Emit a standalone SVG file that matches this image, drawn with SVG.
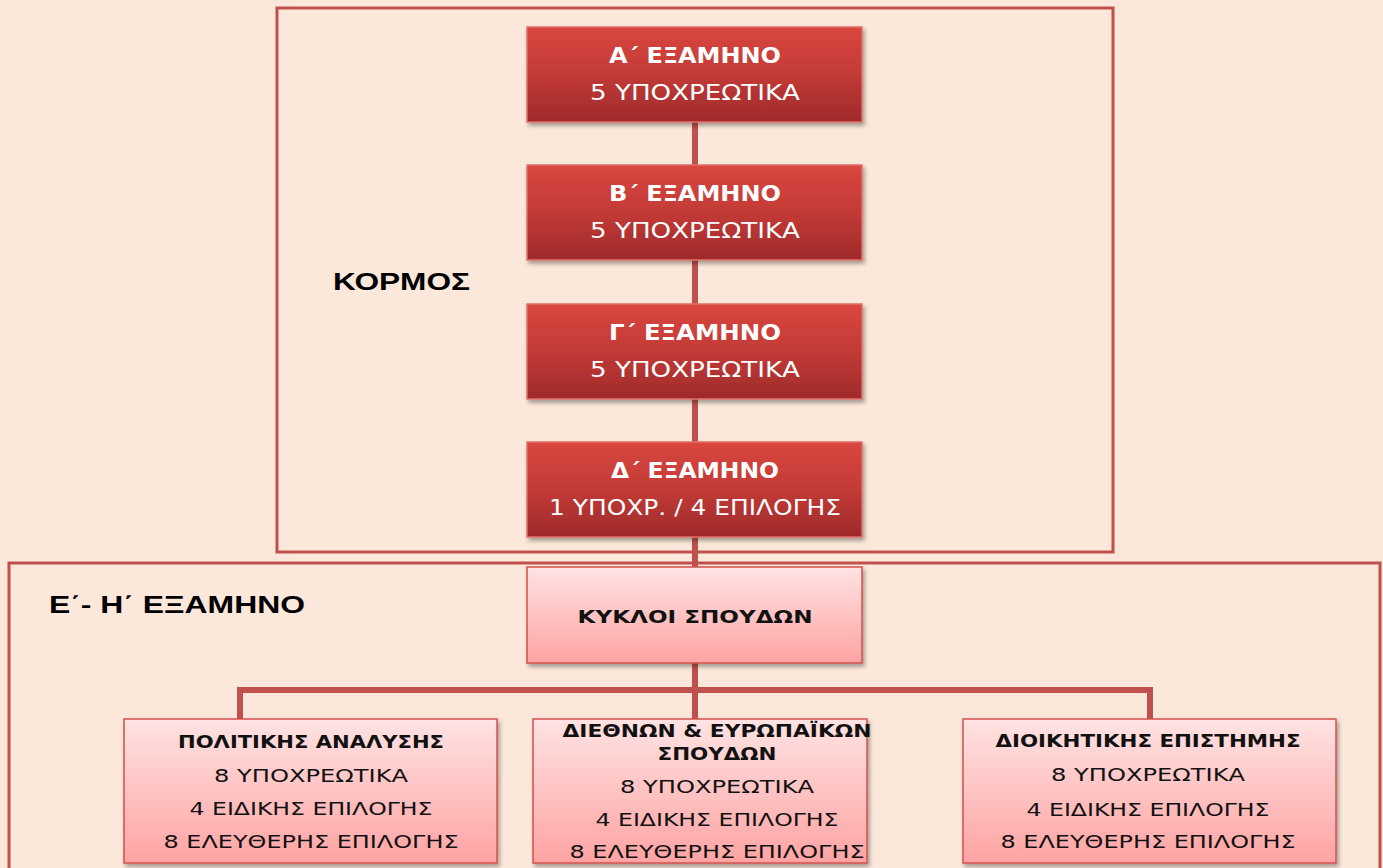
<svg xmlns="http://www.w3.org/2000/svg" width="1383" height="868" viewBox="0 0 1383 868">
<defs>
<linearGradient id="gRed" x1="0" y1="0" x2="0" y2="1">
<stop offset="0" stop-color="#D9473F"/><stop offset="0.5" stop-color="#C33A36"/><stop offset="1" stop-color="#9E2A2B"/>
</linearGradient>
<linearGradient id="gPink" x1="0" y1="0" x2="0" y2="1">
<stop offset="0" stop-color="#FFE3E3"/><stop offset="1" stop-color="#FFA3A3"/>
</linearGradient>
<filter id="sh" x="-10%" y="-10%" width="125%" height="130%">
<feDropShadow dx="2" dy="3" stdDeviation="2" flood-color="#000" flood-opacity="0.35"/>
</filter>
</defs>
<style>
.frame{fill:none;stroke:#C0504D;stroke-width:3}
.conn{fill:none;stroke:#C0504D;stroke-width:6}
.red{fill:url(#gRed);stroke:#E0706B;stroke-width:1.5;filter:url(#sh)}
.pink{fill:url(#gPink);stroke:#D2504E;stroke-width:1.5;filter:url(#sh)}
.wt{font-family:"DejaVu Sans","Liberation Sans",sans-serif;font-size:21px;fill:#fff;text-anchor:middle}
.wb{font-weight:bold}
.bt{font-family:"DejaVu Sans","Liberation Sans",sans-serif;font-size:17px;fill:#111;text-anchor:middle}
.lbl{font-family:"Liberation Sans",Arial,sans-serif;font-weight:bold;font-size:23px;fill:#000}
</style>
<rect x="0" y="0" width="1383" height="868" fill="#FCE8DA"/>
<rect class="frame" x="277" y="8" width="836" height="544"/>
<rect class="frame" x="9" y="563" width="1371" height="320"/>
<text class="lbl" x="333" y="290" textLength="137" lengthAdjust="spacingAndGlyphs">ΚΟΡΜΟΣ</text>
<text class="lbl" x="49" y="613" textLength="256" lengthAdjust="spacingAndGlyphs">Ε&#x384;- Η&#x384; ΕΞΑΜΗΝΟ</text>
<g id="connectors">
<line class="conn" x1="695" y1="122" x2="695" y2="719"/>
<polyline class="conn" points="240,719 240,690 1150,690 1150,719"/>
</g>
<g id="n1"><rect class="red" x="527" y="27" width="335" height="95"/>
<text class="wt wb" x="695" y="63" textLength="172" lengthAdjust="spacingAndGlyphs">Α&#x384; ΕΞΑΜΗΝΟ</text><text class="wt" x="695" y="100" textLength="210" lengthAdjust="spacingAndGlyphs">5 ΥΠΟΧΡΕΩΤΙΚΑ</text></g>
<g id="n2"><rect class="red" x="527" y="165" width="335" height="95"/>
<text class="wt wb" x="695" y="201" textLength="172" lengthAdjust="spacingAndGlyphs">Β&#x384; ΕΞΑΜΗΝΟ</text><text class="wt" x="695" y="238" textLength="210" lengthAdjust="spacingAndGlyphs">5 ΥΠΟΧΡΕΩΤΙΚΑ</text></g>
<g id="n3"><rect class="red" x="527" y="304" width="335" height="95"/>
<text class="wt wb" x="695" y="340" textLength="172" lengthAdjust="spacingAndGlyphs">Γ&#x384; ΕΞΑΜΗΝΟ</text><text class="wt" x="695" y="377" textLength="210" lengthAdjust="spacingAndGlyphs">5 ΥΠΟΧΡΕΩΤΙΚΑ</text></g>
<g id="n4"><rect class="red" x="527" y="442" width="335" height="95"/>
<text class="wt wb" x="695" y="478" textLength="168" lengthAdjust="spacingAndGlyphs">Δ&#x384; ΕΞΑΜΗΝΟ</text><text class="wt" x="695" y="515" textLength="292" lengthAdjust="spacingAndGlyphs">1 ΥΠΟΧΡ. / 4 ΕΠΙΛΟΓΗΣ</text></g>
<g id="n5"><rect class="pink" x="527" y="567" width="335" height="96"/>
<text class="bt wb" x="695" y="623" textLength="235" lengthAdjust="spacingAndGlyphs">ΚΥΚΛΟΙ ΣΠΟΥΔΩΝ</text></g>
<g id="n6"><rect class="pink" x="124" y="719" width="373" height="144"/>
<text class="bt wb" x="311" y="748" textLength="266" lengthAdjust="spacingAndGlyphs">ΠΟΛΙΤΙΚΗΣ ΑΝΑΛΥΣΗΣ</text>
<text class="bt" x="311" y="782" textLength="194" lengthAdjust="spacingAndGlyphs">8 ΥΠΟΧΡΕΩΤΙΚΑ</text>
<text class="bt" x="311" y="815" textLength="243" lengthAdjust="spacingAndGlyphs">4 ΕΙΔΙΚΗΣ ΕΠΙΛΟΓΗΣ</text>
<text class="bt" x="311" y="848" textLength="295" lengthAdjust="spacingAndGlyphs">8 ΕΛΕΥΘΕΡΗΣ ΕΠΙΛΟΓΗΣ</text></g>
<g id="n7"><rect class="pink" x="533" y="719" width="334" height="144"/>
<text class="bt wb" x="717" y="737" textLength="309" lengthAdjust="spacingAndGlyphs">ΔΙΕΘΝΩΝ &amp; ΕΥΡΩΠΑΪΚΩΝ</text>
<text class="bt wb" x="717" y="760" textLength="119" lengthAdjust="spacingAndGlyphs">ΣΠΟΥΔΩΝ</text>
<text class="bt" x="717" y="793" textLength="194" lengthAdjust="spacingAndGlyphs">8 ΥΠΟΧΡΕΩΤΙΚΑ</text>
<text class="bt" x="717" y="826" textLength="243" lengthAdjust="spacingAndGlyphs">4 ΕΙΔΙΚΗΣ ΕΠΙΛΟΓΗΣ</text>
<text class="bt" x="717" y="858" textLength="295" lengthAdjust="spacingAndGlyphs">8 ΕΛΕΥΘΕΡΗΣ ΕΠΙΛΟΓΗΣ</text></g>
<g id="n8"><rect class="pink" x="963" y="719" width="373" height="144"/>
<text class="bt wb" x="1148" y="747" textLength="305" lengthAdjust="spacingAndGlyphs">ΔΙΟΙΚΗΤΙΚΗΣ ΕΠΙΣΤΗΜΗΣ</text>
<text class="bt" x="1148" y="781" textLength="194" lengthAdjust="spacingAndGlyphs">8 ΥΠΟΧΡΕΩΤΙΚΑ</text>
<text class="bt" x="1148" y="816" textLength="243" lengthAdjust="spacingAndGlyphs">4 ΕΙΔΙΚΗΣ ΕΠΙΛΟΓΗΣ</text>
<text class="bt" x="1148" y="848" textLength="295" lengthAdjust="spacingAndGlyphs">8 ΕΛΕΥΘΕΡΗΣ ΕΠΙΛΟΓΗΣ</text></g>
</svg>
